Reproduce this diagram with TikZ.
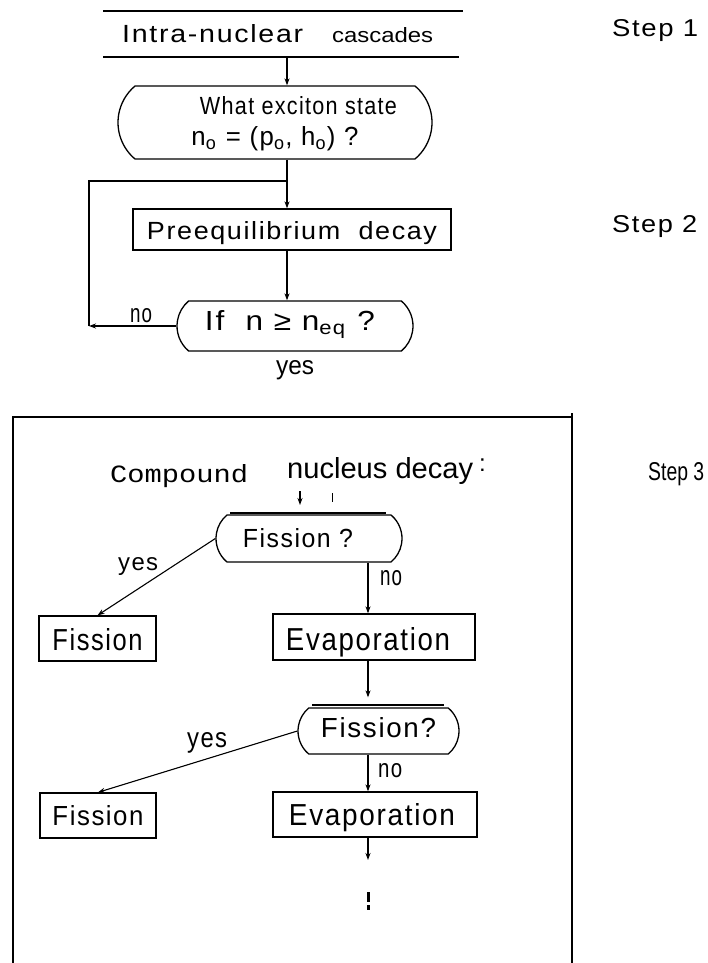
\documentclass[tikz,border=0pt]{standalone}
\usepackage{graphicx}
\usepackage{fontspec}
\setmainfont{Liberation Sans}[LetterSpace=6]
\newfontfamily\plainsf{Liberation Sans}
\newfontfamily\typewr{Liberation Mono}
\usetikzlibrary{arrows.meta,shapes.misc}
% scale a piece of text to a given ink width and height (in pt)
\newcommand\fitto[3]{\resizebox{#1pt}{#2pt}{#3}}
\tikzset{
  >={Stealth[length=7pt,width=5pt]},
  box/.style={draw, line width=1.3pt, inner sep=0pt, rectangle},
  stad/.style={draw, line width=1.3pt, inner sep=0pt, rounded rectangle,
               rounded rectangle arc length=100},
  lbl/.style={inner sep=0pt, anchor=base west},
  rule/.style={line width=2pt},
  conn/.style={line width=1.1pt, ->},
  wire/.style={line width=1.1pt},
}
\begin{document}
\begin{tikzpicture}[x=1pt,y=-1pt]
\useasboundingbox (0,0) rectangle (707,963);

% ---------------- Step 1 ----------------
\coordinate (r1a) at (103,11);  \coordinate (r1b) at (463,11);
\coordinate (r2a) at (103,57);  \coordinate (r2b) at (459,57);
\draw[rule] (r1a) -- (r1b);
\draw[rule] (r2a) -- (r2b);
\node[lbl] (inc) at (122,43) {\fitto{181}{18}{Intra-nuclear}};
\node[lbl] (cas) at (332,43) {\plainsf\fitto{101}{15}{cascades}};
\node[lbl] (st1) at (612,37) {\fitto{86}{17}{Step 1}};

\coordinate (c1) at (287,57);
\node[stad, minimum width=314pt, text height=60pt, text depth=13pt] (s1) at (275,122.5)
  {\makebox[0pt]{\hspace*{47pt}\raisebox{31pt}{\fitto{197}{18}{What exciton state}}}%
   \makebox[0pt]{\fitto{167}{19}{n\textsubscript{o} = (p\textsubscript{o}, h\textsubscript{o}) ?}}};

% ---------------- Step 2 ----------------
\node[box, minimum width=318pt, text height=30pt, text depth=11pt] (pre) at (292,229.5)
  {\fitto{290}{18}{Preequilibrium\ \ decay}};
\node[lbl] (st2) at (612,232) {\fitto{85}{17}{Step 2}};

\node[stad, minimum width=236pt, text height=29pt, text depth=21pt] (ifn) at (295,326)
  {\fitto{170}{20}{If\ \ n ≥ n\textsubscript{eq} ?}\hspace*{10pt}};
\node[lbl] (no0) at (130,322) {\fitto{22}{14}{no}};
\node[lbl] (yes0) at (276,374) {\plainsf\fitto{38}{14}{yes}};

\coordinate (lp1) at (89,326);
\coordinate (lp2) at (89,181);

\draw[conn] (c1) -- (s1.north -| c1);
\draw[conn] (s1.south -| c1) -- (pre.north -| c1);
\draw[conn] (pre.south -| c1) -- (ifn.north -| c1);
\draw[conn] (ifn.west) -- (lp1);
\draw[wire] (lp1) -- (lp2) -- (lp2 -| c1);

% ---------------- Step 3 ----------------
\coordinate (bx1) at (13,963);  \coordinate (bx2) at (13,417);
\coordinate (bx3) at (572,417); \coordinate (bx4) at (572,413);
\coordinate (bx5) at (572,963);
\draw[rule] (bx1) -- (bx2) -- (bx3);
\draw[rule] (bx4) -- (bx5);

\node[lbl] (cmp) at (110,482) {\typewr\fitto{138}{18}{Compound}};
\node[lbl] (nuc) at (287,478) {\plainsf\fitto{186}{21}{nucleus decay}};
\node[lbl] (col0) at (479,471) {\plainsf\fontsize{24}{24}\selectfont :};
\node[lbl] (st3) at (648,480) {\plainsf\fitto{56}{18}{Step 3}};

\coordinate (h1) at (300,491);  \coordinate (h2) at (300,505);
\coordinate (t1) at (332,493);  \coordinate (t2) at (332,502);
\draw[conn] (h1) -- (h2);
\draw[line width=1pt] (t1) -- (t2);

\coordinate (col) at (368,0);

% first decision
\node[stad, minimum width=186pt, text height=32pt, text depth=15pt] (fq1) at (309,538.5)
  {\fitto{110}{19}{Fission ?}\hspace*{22pt}};
\coordinate (o1a) at (230,513); \coordinate (o1b) at (386,513);
\draw[rule] (o1a) -- (o1b);
\node[lbl] (yes1) at (118,570) {\fitto{40}{13}{yes}};
\node[lbl] (no1) at (380,585) {\fitto{22}{15}{no}};

\node[box, minimum width=117pt, text height=34pt, text depth=11pt] (fb1) at (97.5,638.5)
  {\fitto{90}{22}{Fission}};
\node[box, minimum width=202pt, text height=36pt, text depth=10pt] (e1) at (374,637)
  {\fitto{164}{23}{Evaporation}\hspace*{12pt}};

% second decision
\node[stad, minimum width=161pt, text height=29pt, text depth=17pt] (fq2) at (378.5,731)
  {\fitto{115}{20}{Fission?}};
\coordinate (o2a) at (312,705); \coordinate (o2b) at (444,705);
\draw[rule] (o2a) -- (o2b);
\node[lbl] (yes2) at (187,747) {\fitto{40}{15}{yes}};
\node[lbl] (no2) at (378,777) {\fitto{24}{14}{no}};

\node[box, minimum width=116pt, text height=32pt, text depth=13pt] (fb2) at (98,815.5)
  {\fitto{91}{20}{Fission}};
\node[box, minimum width=204pt, text height=33pt, text depth=12pt] (e2) at (375,814.5)
  {\fitto{166}{22}{Evaporation}\hspace*{6pt}};

\coordinate (more) at (368,860);
\coordinate (d1) at (368,892); \coordinate (d2) at (368,902);
\coordinate (d3) at (368,905); \coordinate (d4) at (368,910);

\draw[conn] (fq1.south -| col) -- (e1.north -| col);
\draw[conn] (fq1.west) -- (fb1.north);
\draw[conn, shorten >=10pt] (e1.south -| col) -- (fq2.north -| col);
\draw[conn] (fq2.south -| col) -- (e2.north -| col);
\draw[conn] (fq2.west) -- (fb2.north);
\draw[conn] (e2.south -| col) -- (more);
\draw[line width=3pt] (d1) -- (d2);
\draw[line width=3pt] (d3) -- (d4);
\end{tikzpicture}
\end{document}
